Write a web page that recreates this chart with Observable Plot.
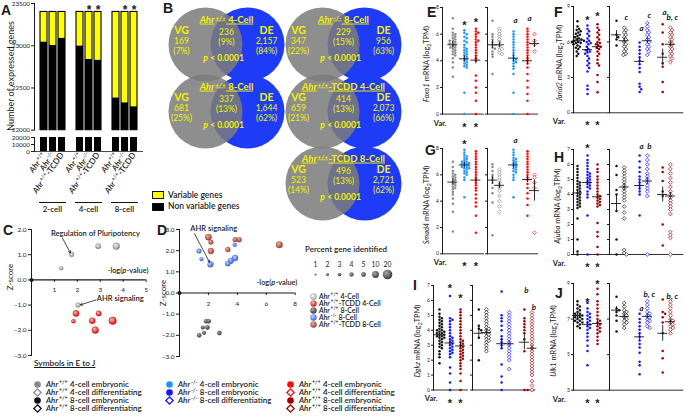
<!DOCTYPE html>
<html>
<head>
<meta charset="utf-8">
<script src="https://cdn.jsdelivr.net/npm/d3@7"></script>
<script src="https://cdn.jsdelivr.net/npm/@observablehq/plot@0.6"></script>
<style>
html,body{margin:0;padding:0;background:#fff;}
#fig{position:relative;width:685px;height:420px;overflow:hidden;font-family:Lato,"Open Sans",sans-serif;color:#1a1a1a;}
#fig svg{background:transparent !important;max-width:none !important;overflow:visible !important;}
.t{position:absolute;white-space:nowrap;line-height:1;}
.letter{position:absolute;font-family:"Liberation Sans",Arial,sans-serif;font-weight:bold;font-size:14px;line-height:14px;}
.rot{position:absolute;white-space:nowrap;line-height:1;transform:translate(-50%,-50%) rotate(-90deg);}
sup{font-size:70%;vertical-align:0.45em;line-height:0;}
sub{font-size:70%;vertical-align:-0.25em;line-height:0;}
</style>
</head>
<body>
<div id="fig"></div>
<script>
// ===================== DATA =====================
// ---- A: expressed genes ----
const aGroups = ["2-cell", "4-cell", "8-cell"];
const aGenotypes = ["Ahr+/+", "Ahr-/-", "Ahr+/+-TCDD"];
const aTotal = [23400, 23400, 23400, 23400, 23400, 23400, 23400, 23400, 23400];
const aNonVariable = [23045, 23005, 23090, 22998, 22838, 22830, 22383, 22325, 22278];
const aSignificant = [0, 0, 0, 0, 1, 1, 0, 1, 1];
const aUpperTicks = [22000, 22500, 23000, 23500];
const aLowerTicks = [0, 10000, 20000];
const aBreakValue = 20000;
const aLegend = ["Variable genes", "Non variable genes"];

// ---- B: Venn diagrams ----
const vennTitles = ["Ahr+/+ 4-Cell", "Ahr-/- 8-Cell", "Ahr+/+ 8-Cell", "Ahr+/+-TCDD 4-Cell", "Ahr+/+-TCDD 8-Cell"];
const vennVG = [169, 347, 681, 659, 523];
const vennVGPct = [7, 22, 25, 21, 14];
const vennBoth = [236, 229, 337, 414, 496];
const vennBothPct = [9, 15, 13, 13, 13];
const vennDE = [2157, 956, 1644, 2073, 2721];
const vennDEPct = [84, 63, 62, 66, 62];
const vennP = "p < 0.0001";

// ---- C: pathways ----
const cGreyX = [1.30, 1.75, 2.91, 3.70, 2.03];
const cGreyY = [0.46, 1.01, 1.34, 1.34, -1.00];
const cGreyPct = [3, 5, 6, 10, 5];
const cRedX = [1.94, 1.83, 2.65, 2.93, 2.78, 3.54];
const cRedY = [-1.33, -1.64, -1.62, -1.33, -1.99, -1.62];
const cRedPct = [8, 3.5, 8, 6, 10, 12];
const cXTicks = [1, 2, 3, 4, 5];
const cYTicks = [-3, -2, -1, 0, 1, 2];

// ---- D: pathways ----
const dLightX = [2.20], dLightY = [1.38], dLightPct = [6];
const dDarkX = [1.84, 2.02, 1.61, 1.93, 1.70, 1.36, 2.76];
const dDarkY = [-1.34, -1.34, -1.63, -1.63, -1.88, -2.00, -1.89];
const dDarkPct = [4, 4, 3, 4, 3, 4, 4];
const dBlueX = [1.35, 1.52, 2.12, 3.34, 3.82, 3.84, 3.55];
const dBlueY = [1.98, 1.60, 1.34, 1.39, 2.28, 1.65, 1.52];
const dBluePct = [5, 3, 6, 6, 3.5, 8, 7];
const dBrownX = [2.00, 2.17, 2.17, 3.34, 3.84, 4.12, 6.90];
const dBrownY = [2.64, 2.40, 1.98, 2.05, 2.52, 2.52, 2.28];
const dBrownPct = [9, 5, 8, 5.5, 5, 5.5, 9.5];
const dXTicks = [2, 4, 6, 8];
const dYTicks = [-3, -2, -1, 0, 1, 2, 3];
const pctLevels = [1, 2, 3, 4, 5, 10, 20];
const dSeries = ["Ahr+/+ 4-Cell", "Ahr+/+-TCDD 4-Cell", "Ahr+/+ 8-Cell", "Ahr-/- 8-Cell", "Ahr+/+-TCDD 8-Cell"];

// ---- symbols legend ----
const symCol1 = ["Ahr+/+ 4-cell embryonic", "Ahr+/+ 4-cell differentiating", "Ahr+/+ 8-cell embryonic", "Ahr+/+ 8-cell differentiating"];
const symCol2 = ["Ahr-/- 4-cell embryonic", "Ahr-/- 8-cell embryonic", "Ahr-/- 8-cell differentiating"];
const symCol3 = ["Ahr+/+ 4-cell embryonic", "Ahr+/+ 4-cell differentiating", "Ahr+/+ 8-cell embryonic", "Ahr+/+ 8-cell differentiating"];

// ---- E: Foxo1 ----
const eLeftValues = [
 [7.2,6.4,6.1,6.0,5.9,5.8,5.7,5.6,5.5,5.5,5.4,5.3,5.3,5.2,5.1,5.0,5.0,4.9,4.8,4.7,4.6,4.5,4.4,4.2,3.9,3.5,2.8],
 [6.3,6.1,6.0,5.8,5.7,5.5,5.4,5.2,5.0,4.9,4.8,4.7,4.6,4.5,4.4,4.3,4.2,4.1,4.0,3.9,3.8,3.7,3.6,3.5,1.6,0],
 [6.4,6.2,6.1,6.0,5.8,5.6,5.5,5.4,5.2,5.0,4.8,4.6,4.4,4.2,4.0,2.9,2.5,2.0,1.6,1.0,0]];
const eLeftMean = [5.2, 4.15, 4.05], eLeftSem = [0.15, 0.2, 0.28];
const eRightValues = [
 [7.0,6.0,5.8,5.6,5.4,5.2,5.0,4.9,4.7,4.5,4.3,3.0],
 [6.4,6.2,6.0,5.8,5.6,5.4,5.2,5.0,4.9,4.8,4.6,4.5],
 [6.2,6.0,5.8,5.6,5.4,5.2,5.0,4.8,4.6,4.4,4.2,4.1,4.0,3.9,3.8,3.6,3.4,3.0,1.6,0],
 [6.4,6.2,6.0,5.8,5.6,5.4,5.2,5.0,4.8,4.6,4.4,4.2,4.0,3.8,3.5,3.0,2.5,2.0,1.5,1.0,0],
 [6.0,5.5,5.2,4.7]];
const eRightMean = [5.2, 5.2, 4.2, 4.0, 5.3], eRightSem = [0.3, 0.2, 0.28, 0.3, 0.3];
const eLeftTop = ["", "*", "*"], eLeftTopY = [0, 6.9, 7.1];
const eRightTop = ["", "", "a", "a", ""], eRightTopY = [0, 0, 7.0, 7.2, 0];
const eLeftBottom = ["", "*", "*"];

// ---- G: Smad4 ----
const gLeftValues = [
 [7.0,6.6,6.3,6.1,6.0,5.9,5.8,5.7,5.6,5.5,5.4,5.3,5.2,5.1,5.0,4.9,4.7,4.5,4.2,3.8,3.2,1.7],
 [7.9,7.7,7.5,7.4,7.3,7.2,7.1,7.0,7.0,6.9,6.9,6.8,6.8,6.7,6.7,6.6,6.6,6.5,6.5,6.4,6.3,6.2,6.1,6.0,5.8,5.6,4.3],
 [7.8,7.6,7.4,7.2,7.0,6.8,6.6,6.4,6.2,6.0,5.8,5.6,5.4,5.2,5.0,4.8,4.5,4.2,3.9,3.6,2.9,1.6]];
const gLeftMean = [5.45, 6.75, 5.6], gLeftSem = [0.15, 0.08, 0.2];
const gRightValues = [
 [6.8,6.6,6.3,6.0,5.8,5.6,5.4,5.0,4.6,3.9,1.4],
 [6.4,6.2,6.0,5.8,5.6,5.4,5.2,5.0,4.8,4.4,4.0,3.6,3.2],
 [7.9,7.7,7.5,7.3,7.2,7.1,7.0,6.9,6.8,6.7,6.6,6.5,6.4,6.3,6.2,6.0,5.8,5.6,4.3],
 [7.8,7.6,7.4,7.2,7.0,6.8,6.6,6.4,6.2,6.0,5.8,5.6,5.3,5.0,4.6,4.2,3.7,2.9],
 [6.0,5.8,5.4,5.0,1.6]];
const gRightMean = [5.6, 5.2, 6.75, 5.65, 4.8], gRightSem = [0.3, 0.25, 0.1, 0.25, 0.8];
const gLeftTop = ["", "*", ""], gLeftTopY = [0, 8.55, 0];
const gRightTop = ["", "", "a", "", ""], gRightTopY = [0, 0, 8.6, 0, 0];
const gLeftBottom = ["", "*", "*"];

// ---- I: Dgkz ----
const iLeftValues = [
 [5.4,5.1,4.9,4.8,4.7,4.6,4.5,4.4,4.3,4.2,4.1,4.0,4.0,3.9,3.9,3.8,3.8,3.7,3.7,3.6,3.6,3.5,3.5,3.4,3.3,3.2,3.1,3.0,2.9,2.8,2.6,2.4,2.2,1.8],
 [6.3,4.8,4.7,4.6,4.4,4.2,4.0,3.8,3.6,3.5,3.4,3.3,3.2,3.1,3.0,2.9,2.8,2.7,2.6,2.5,2.4,2.2,1.5,1.1,0.5,0],
 [5.4,5.2,5.0,4.8,4.6,4.4,4.2,4.0,3.8,3.6,3.4,3.3,3.2,3.1,3.0,2.9,2.8,2.7,2.6,2.5,2.4,2.3,2.2,2.1,2.0,1.8,1.6,1.4,1.1,0.6,0]];
const iLeftMean = [3.7, 3.15, 2.95], iLeftSem = [0.08, 0.2, 0.15];
const iRightValues = [
 [5.4,4.3,4.1,4.0,3.5,2.0],
 [5.4,5.2,5.0,4.8,4.6,4.4,4.2,4.1,4.0,3.9,3.8,3.7,3.6,3.5,3.4,3.3,3.2,3.0,2.8,2.6],
 [6.6,5.0,4.8,4.6,4.3,4.0,3.6,3.4,3.2,3.0,2.8,1.7,0.9,0.5,0],
 [5.2,5.0,4.8,4.6,4.4,4.2,4.0,3.8,3.6,3.4,3.2,3.0,2.8,2.6,2.4,2.2,2.0,1.4],
 [5.4,4.8,4.6,4.4,4.2,4.0,3.8,3.4,2.6,0,0],
 [5.2,5.0,4.8,4.6,4.4,4.2,4.0,3.8,3.6,3.4,3.2,3.0,2.8,2.6,2.4,2.2,2.0,1.8,1.6,1.4,1.2,1.0,0.6,0.3,0]];
const iRightMean = [3.8, 3.85, 3.1, 3.1, 3.2, 2.8], iRightSem = [0.4, 0.15, 0.35, 0.2, 0.5, 0.2];
const iLeftTop = ["", "*", "*"], iLeftTopY = [0, 7.0, 6.3];
const iRightTop = ["", "", "", "", "b", "b"], iRightTopY = [0, 0, 0, 0, 6.7, 5.5];
const iLeftBottom = ["", "*", "*"];

// ---- F: Jarid2 ----
const fLeftValues = [
 [7.75,7.3,7.1,7.0,6.9,6.8,6.7,6.6,6.5,6.4,6.3,6.2,6.2,6.1,6.1,6.0,6.0,5.9,5.9,5.8,5.7,5.6,5.5,5.4,5.2,5.0,4.8],
 [7.4,7.1,6.9,6.7,6.5,6.3,6.1,6.0,5.9,5.8,5.6,5.4,5.3,5.2,5.1,5.0,4.8,4.6,4.4,4.2,4.0,3.8,3.5,2.3,2.0,1.6],
 [7.5,7.2,7.0,6.8,6.6,6.4,6.2,6.0,5.9,5.8,5.7,5.6,5.5,5.4,5.2,5.0,4.8,4.5,4.2,4.0,3.2,2.6,1.75]];
const fLeftMean = [6.1, 5.35, 5.6], fLeftSem = [0.08, 0.15, 0.15];
const fRightValues = [
 [7.8,6.6,6.4,6.2,5.7],
 [7.2,7.0,6.8,6.6,6.4,6.2,6.0,5.8,5.6,5.4,5.2,5.0,4.9],
 [5.95,5.6,5.3,5.0,4.7,4.4,4.1,3.8,3.45,2.45,2.2,2.0,1.75],
 [7.6,7.3,7.0,6.8,6.6,6.4,6.2,6.0,5.8,5.6,5.4,5.2,4.9],
 [7.5,6.8,5.8,5.0,4.2,3.9,2.6,1.75],
 [7.2,7.0,6.8,6.6,6.4,6.2,6.0,5.8,5.6,5.4,5.2,5.0,4.8,4.6,4.3]];
const fRightMean = [6.6, 6.1, 4.35, 6.1, 4.7, 5.8], fRightSem = [0.35, 0.15, 0.3, 0.15, 0.7, 0.15];
const fLeftTop = ["", "*", "*"], fLeftTopY = [0, 8.1, 8.4];
const fRightTop = ["", "c", "a", "c", "a", "b, c"], fRightTopY = [0, 8.1, 7.1, 8.25, 8.5, 8.1];
const fLeftBottom = ["", "*", "*"];

// ---- H: Ajuba ----
const hLeftValues = [
 [5.9,5.7,5.5,5.3,5.1,4.9,4.8,4.7,4.6,4.5,4.4,4.3,4.2,4.1,4.0,3.9,3.8,3.7,3.6,3.5,3.4,3.3,3.2,3.1,2.4,1.0,0.2,0],
 [6.6,6.3,6.1,5.9,5.7,5.5,5.4,5.3,5.2,5.1,5.0,4.9,4.8,4.7,4.6,4.5,4.4,4.2,4.0,3.8,2.6,0],
 [6.0,5.7,5.5,5.2,5.0,4.8,4.6,4.4,4.2,4.0,3.9,3.8,3.7,3.6,3.5,3.4,3.3,3.2,2.1,1.5,1.2,0.5,0]];
const hLeftMean = [4.1, 4.8, 3.85], hLeftSem = [0.15, 0.15, 0.15];
const hRightValues = [
 [5.9,5.3,4.3,4.0,2.9,1.0,0],
 [5.8,5.6,5.4,5.2,5.0,4.8,4.6,4.4,4.2,4.0,3.8,3.6,3.2,2.8,2.4,0.3,0.1,0],
 [6.6,6.2,5.8,5.5,5.2,5.0,4.8,4.6,4.4,4.2,4.0,2.6],
 [6.6,6.3,6.0,5.7,5.4,5.2,5.0,4.8,4.6,4.4,4.2,3.9,0],
 [5.8,5.5,4.9,4.2,3.9,2.0,0.6],
 [6.0,5.7,5.4,5.1,4.8,4.5,4.2,4.0,3.8,3.6,3.4,3.2,3.0,2.7,1.5,1.3,1.1,0]];
const hRightMean = [3.4, 4.5, 4.6, 4.9, 4.0, 3.9], hRightSem = [0.6, 0.25, 0.3, 0.25, 0.5, 0.25];
const hLeftTop = ["", "*", ""], hLeftTopY = [0, 7.25, 0];
const hRightTop = ["", "", "a", "b", "", ""], hRightTopY = [0, 0, 7.2, 7.2, 0, 0];
const hLeftBottom = ["", "*", "*"];

// ---- J: Ulk1 ----
const jLeftValues = [
 [8.0,7.8,7.7,7.6,7.5,7.4,7.3,7.3,7.2,7.2,7.1,7.1,7.0,7.0,6.9,6.9,6.8,6.8,6.7,6.6,6.5],
 [7.9,7.6,7.4,7.3,7.2,7.1,7.0,6.9,6.8,6.7,6.6,6.5,6.4,6.2,6.0,5.8,5.5,5.2,4.4],
 [8.7,8.4,8.0,7.8,7.6,7.4,7.2,7.0,6.9,6.8,6.7,6.6,6.5,6.4,6.3,6.2,6.0,5.8,5.6]];
const jLeftMean = [7.2, 6.7, 6.75], jLeftSem = [0.05, 0.1, 0.1];
const jRightValues = [
 [8.25,7.6,7.5,7.4,7.2,6.9,6.3],
 [7.9,7.7,7.5,7.4,7.3,7.2,7.1,7.0,6.9,6.8,6.7,6.5],
 [7.3,7.0,6.8,6.6,6.4,6.2,6.0,5.8,5.6,5.4,5.1,4.6,4.4,3.9],
 [8.0,7.8,7.6,7.4,7.3,7.2,7.1,7.0,6.9,6.8,6.6,6.5],
 [8.1,7.4,7.3,7.1,6.8,6.2,5.2,4.8,4.0],
 [8.0,7.8,7.6,7.4,7.2,7.0,6.9,6.8,6.7,6.6,6.5,6.4,6.2]];
const jRightMean = [7.5, 7.15, 6.0, 7.15, 6.2, 6.85], jRightSem = [0.2, 0.1, 0.2, 0.1, 0.45, 0.1];
const jLeftTop = ["", "*", "*"], jLeftTopY = [0, 8.1, 9.1];
const jRightTop = ["", "", "a", "b, c", "", "b, c"], jRightTopY = [0, 0, 7.6, 8.4, 0, 8.3];
const jLeftBottom = ["", "*", "*"];

// ===================== STYLE / HELPERS =====================
const INK = "#1a1a1a";
const YEL = "#f2f200";
const STAR_FONT = "'Liberation Sans', Arial, sans-serif";
const BASE = {fontFamily: "Lato, 'Open Sans', sans-serif", background: "transparent", overflow: "visible", color: INK, maxWidth: "none"};
const C4 = {a: "#8a8a8a", b: "#1e96ff", c: "#ff0a0a"};
const C8 = {a: "#111111", b: "#1414ff", c: "#a00000"};
const fig = document.getElementById("fig");

document.body.insertAdjacentHTML("afterbegin", `<svg width="0" height="0" style="position:absolute"><defs>${
  [["sphGrey","#f0f0f0","#8c8c8c"],["sphLight","#ffffff","#a8a8a8"],["sphRed","#ffb8ae","#d80000"],
   ["sphDark","#a8a8a8","#303030"],["sphBlue","#c4d4ff","#2b58e0"],["sphBrown","#eab0a0","#9a3524"]]
  .map(([id,a,b]) => `<radialGradient id="${id}" cx="0.38" cy="0.34" r="0.72"><stop offset="0" stop-color="${a}"/><stop offset="1" stop-color="${b}"/></radialGradient>`).join("")
}</defs></svg>`);

function rich(root) {
  const NS = "http://www.w3.org/2000/svg";
  const re = /(Ahr)([+\-]\/[+\-])|(\bp)(?=-value| <)/g;
  root.querySelectorAll("text, tspan").forEach(node => {
    if (node.children.length) return;
    const s = node.textContent;
    re.lastIndex = 0;
    if (!re.test(s)) return;
    re.lastIndex = 0;
    node.textContent = "";
    const add = (txt, attrs) => { const t = document.createElementNS(NS, "tspan"); t.textContent = txt; for (const k in attrs) t.setAttribute(k, attrs[k]); node.appendChild(t); };
    let last = 0, m;
    while ((m = re.exec(s))) {
      if (m.index > last) add(s.slice(last, m.index), {});
      if (m[1]) { add("Ahr", {"font-style": "italic"}); add(m[2], {"baseline-shift": "super", "font-size": "68%", dx: "0.8"}); }
      else add("p", {"font-style": "italic"});
      last = m.index + m[0].length;
    }
    if (last < s.length) add(s.slice(last), {dx: "0.3"});
  });
}

function framed(opts, f, m) {
  const svg = Plot.plot({...opts, style: {...BASE, ...(opts.style || {})},
    width: f.x1 - f.x0 + m.l + m.r, height: f.y1 - f.y0 + m.t + m.b,
    marginLeft: m.l, marginRight: m.r, marginTop: m.t, marginBottom: m.b});
  svg.style.position = "absolute";
  svg.style.left = (f.x0 - m.l) + "px";
  svg.style.top = (f.y0 - m.t) + "px";
  fig.appendChild(svg);
  rich(svg);
  svg._ox = f.x0 - m.l; svg._oy = f.y0 - m.t;
  return svg;
}
function html(s, x, y, css = "") {
  const d = document.createElement("div");
  d.className = "t"; d.innerHTML = s; d.style.left = x + "px"; d.style.top = y + "px";
  d.style.cssText += css; fig.appendChild(d); return d;
}
function rot(s, cx, cy, size) {
  const d = document.createElement("div");
  d.className = "rot"; d.innerHTML = s; d.style.left = cx + "px"; d.style.top = cy + "px"; d.style.fontSize = size + "px";
  fig.appendChild(d); return d;
}
function letter(s, x, capTop) {
  const d = document.createElement("div"); d.className = "letter"; d.textContent = s;
  d.style.left = x + "px"; d.style.top = (capTop - 2.5) + "px"; fig.appendChild(d);
}

// ===================== PANEL A =====================
const aBars = aGroups.flatMap((g, gi) => aGenotypes.map((gt, j) => ({
  slot: `${gi}-${j}`, genotype: gt, total: aTotal[gi * 3 + j], nonvar: aNonVariable[gi * 3 + j], star: aSignificant[gi * 3 + j]
})));
const aSlots = [];
aGroups.forEach((g, gi) => { if (gi) aSlots.push(`gap${gi}`); aGenotypes.forEach((gt, j) => aSlots.push(`${gi}-${j}`)); });
const aXScale = {domain: aSlots, paddingInner: 0.24, paddingOuter: 0.3};
framed({
  x: {...aXScale, axis: null},
  y: {domain: [22000, 23500], ticks: aUpperTicks, tickSize: 3, tickPadding: 1.5, tickFormat: d3.format("d"), label: null, line: true},
  style: {fontSize: "6.3px"},
  marks: [
    Plot.barY(aBars, {x: "slot", y1: 22000, y2: "nonvar", fill: "#000"}),
    Plot.barY(aBars, {x: "slot", y1: "nonvar", y2: "total", fill: "#ffff00"}),
    Plot.barY(aBars, {x: "slot", y1: 22000, y2: "total", fill: "none", stroke: "#000", strokeWidth: 1.1}),
    Plot.text(aBars.filter(d => d.star), {x: "slot", y: "total", dy: -2, text: () => "*", fontSize: 12, fontWeight: "bold", fontFamily: STAR_FONT})
  ]
}, {x0: 34, x1: 143, y0: 3.3, y1: 130}, {l: 34, t: 4, r: 2, b: 1});
const aLower = framed({
  x: {...aXScale, tickRotate: -55, tickSize: 0, tickPadding: 2, label: null,
      tickFormat: s => (aBars.find(b => b.slot === s) || {}).genotype || ""},
  y: {domain: [0, aBreakValue], ticks: aLowerTicks, tickSize: 3, tickPadding: 1.5, tickFormat: d3.format("d"), label: null, line: true},
  style: {fontSize: "8.2px", fontWeight: 600},
  marks: [
    Plot.barY(aBars, {x: "slot", y1: 0, y2: aBreakValue, fill: "#000"}),
    Plot.ruleY([0], {stroke: INK, strokeWidth: 0.8})
  ]
}, {x0: 34, x1: 143, y0: 137, y1: 151}, {l: 34, t: 1, r: 2, b: 40});
aLower.querySelectorAll("text").forEach(t => { if (/^\d+$/.test(t.textContent)) { t.setAttribute("font-size", "6.3px"); t.setAttribute("font-weight", "normal"); } });
{
  const sx = aLower.scale("x");
  aGroups.forEach((g, gi) => {
    const a = sx.apply(`${gi}-0`) + aLower._ox, b = sx.apply(`${gi}-2`) + sx.bandwidth + aLower._ox;
    html("", a - 1, 201.5, `width:${b - a + 2}px;border-top:1.2px solid #111;`);
    html(g, (a + b) / 2, 205, "transform:translateX(-50%);font-size:8px;font-weight:600;");
  });
}
rot("Number of expressed genes", 10, 76, 9);
html("", 152, 191, "width:10px;height:6px;background:#ffff00;border:1px solid #111;");
html(aLegend[0], 168, 190.5, "font-size:8.5px;font-weight:600;");
html("", 152, 202.5, "width:10px;height:6px;background:#000;border:1px solid #111;");
html(aLegend[1], 168, 202, "font-size:8.5px;font-weight:600;");

// ===================== PANEL B =====================
const vennCol = [0, 1, 0, 1, 1], vennRow = [0, 0, 1, 1, 2];
const vennRowY = [44, 111, 183];
vennTitles.forEach((title, i) => {
  const mx = 226 + vennCol[i] * 117, cy = vennRowY[vennRow[i]];
  const f = d3.format(",");
  const svg = framed({
    x: {domain: [-70, 70], axis: null},
    y: {domain: [42, -42], axis: null},
    marks: [
      Plot.dot([0], {x: 21, y: 0, r: 37, fill: "#1e3cf8"}),
      Plot.dot([0], {x: -21, y: 0, r: 37, fill: "#7c7c7c", fillOpacity: 0.86}),
      Plot.text([title], {x: 0, y: -25, text: d => d, fill: YEL, fontSize: 9.5, fontWeight: "bold"}),
      Plot.text(["VG"], {x: -45, y: -14, text: d => d, fill: YEL, fontSize: 10.5, fontWeight: "bold"}),
      Plot.text([f(vennVG[i])], {x: -45, y: -3, text: d => d, fill: YEL, fontSize: 8.5}),
      Plot.text([`(${vennVGPct[i]}%)`], {x: -45, y: 7, text: d => d, fill: YEL, fontSize: 8.5}),
      Plot.text([f(vennBoth[i])], {x: 0, y: -12, text: d => d, fill: YEL, fontSize: 8.5}),
      Plot.text([`(${vennBothPct[i]}%)`], {x: 0, y: -2, text: d => d, fill: YEL, fontSize: 8.5}),
      Plot.text(["DE"], {x: 40, y: -14, text: d => d, fill: YEL, fontSize: 10.5, fontWeight: "bold"}),
      Plot.text([f(vennDE[i])], {x: 40, y: -3, text: d => d, fill: YEL, fontSize: 8.5}),
      Plot.text([`(${vennDEPct[i]}%)`], {x: 40, y: 7, text: d => d, fill: YEL, fontSize: 8.5}),
      Plot.text([vennP], {x: -3, y: 14, text: d => d, fill: YEL, fontSize: 8.5, fontWeight: "bold"})
    ]
  }, {x0: mx - 70, x1: mx + 70, y0: cy - 42, y1: cy + 42}, {l: 0, t: 0, r: 0, b: 0});
  svg.querySelectorAll("text").forEach(t => { if (/Cell/.test(t.textContent)) t.setAttribute("text-decoration", "underline"); });
});

// ===================== PANEL C =====================
const rScale = {type: "sqrt", domain: [0, 20], range: [0, 4.8]};
const cGrey = cGreyX.map((x, i) => ({x, y: cGreyY[i], pct: cGreyPct[i]}));
const cRed = cRedX.map((x, i) => ({x, y: cRedY[i], pct: cRedPct[i]}));
framed({
  x: {domain: [0, 5], axis: null},
  y: {domain: [-3, 2], ticks: cYTicks, tickSize: 3, tickPadding: 2, label: null, line: true},
  r: rScale,
  style: {fontSize: "6.5px"},
  marks: [
    Plot.ruleY([0], {stroke: INK, strokeWidth: 1.2}),
    Plot.ruleX(cXTicks, {x: d => d, y1: 0, y2: -0.1, stroke: INK}),
    Plot.text(cXTicks, {x: d => d, y: 0, dy: 10, text: d => String(d), fontSize: 6.5}),
    Plot.dot([0], {x: 0, y: 0, r: 2, fill: INK}),
    Plot.dot(cGrey, {x: "x", y: "y", r: "pct", fill: "url(#sphGrey)", stroke: "#6d6d6d", strokeWidth: 0.4}),
    Plot.dot(cRed, {x: "x", y: "y", r: "pct", fill: "url(#sphRed)", stroke: "#b00000", strokeWidth: 0.4}),
    Plot.arrow([0], {x1: 1.35, y1: 1.66, x2: 1.70, y2: 1.07, headLength: 4, strokeWidth: 0.8, stroke: INK}),
    Plot.arrow([0], {x1: 2.80, y1: -0.80, x2: 2.14, y2: -0.99, headLength: 4, strokeWidth: 0.8, stroke: INK}),
    Plot.text(["Regulation of Pluripotency"], {x: 2.79, y: 1.84, text: d => d, fontSize: 7.6, fontWeight: 600}),
    Plot.text(["AHR signaling"], {x: 2.85, y: -0.76, text: d => d, textAnchor: "start", fontSize: 7.6, fontWeight: 600}),
    Plot.text(["-log(p-value)"], {x: 5.1, y: 0.36, text: d => d, textAnchor: "end", fontSize: 7.4, fontWeight: 600})
  ]
}, {x0: 30.7, x1: 145.3, y0: 229, y1: 355}, {l: 30, t: 6, r: 8, b: 6});
rot("Z-score", 10, 277, 8);

// ===================== PANEL D =====================
const toPts = (X, Y, P) => X.map((x, i) => ({x, y: Y[i], pct: P[i]}));
framed({
  x: {domain: [0, 8], axis: null},
  y: {domain: [-3, 3], ticks: dYTicks, tickSize: 3, tickPadding: 2, label: null, line: true},
  r: rScale,
  style: {fontSize: "6.5px"},
  marks: [
    Plot.ruleY([0], {stroke: INK, strokeWidth: 1.2}),
    Plot.ruleX(dXTicks, {x: d => d, y1: 0, y2: -0.12, stroke: INK}),
    Plot.text(dXTicks, {x: d => d, y: 0, dy: 10.5, text: d => String(d), fontSize: 6.5}),
    Plot.dot([0], {x: 0, y: 0, r: 2, fill: INK}),
    Plot.dot(toPts(dDarkX, dDarkY, dDarkPct), {x: "x", y: "y", r: "pct", fill: "url(#sphDark)", stroke: "#333", strokeWidth: 0.3}),
    Plot.dot(toPts(dBrownX, dBrownY, dBrownPct), {x: "x", y: "y", r: "pct", fill: "url(#sphBrown)", stroke: "#7a2a1c", strokeWidth: 0.3}),
    Plot.dot(toPts(dLightX, dLightY, dLightPct), {x: "x", y: "y", r: "pct", fill: "url(#sphLight)", stroke: "#888", strokeWidth: 0.3}),
    Plot.dot(toPts(dBlueX, dBlueY, dBluePct), {x: "x", y: "y", r: "pct", fill: "url(#sphBlue)", stroke: "#2040b0", strokeWidth: 0.3}),
    Plot.arrow([0], {x1: 1.04, y1: 2.80, x2: 2.08, y2: 1.45, headLength: 4, strokeWidth: 0.8, stroke: INK}),
    Plot.text(["AHR signaling"], {x: 0.75, y: 3.05, text: d => d, textAnchor: "start", fontSize: 7.6, fontWeight: 600}),
    Plot.text(["-log(p-value)"], {x: 8.15, y: 0.47, text: d => d, textAnchor: "end", fontSize: 7.4, fontWeight: 600})
  ]
}, {x0: 179.3, x1: 295, y0: 229, y1: 356}, {l: 18, t: 8, r: 6, b: 14});
rot("Z-score", 163, 293, 8);

// size legend
html("Percent gene identified", 305, 245, "font-size:8px;font-weight:600;");
framed({
  x: {type: "point", domain: pctLevels, axis: null},
  r: rScale,
  marks: [
    Plot.dot(pctLevels, {x: d => d, r: d => d, fill: "url(#sphDark)"}),
    Plot.text(pctLevels, {x: d => d, dy: -10, text: d => String(d), fontSize: 6.8})
  ]
}, {x0: 309, x1: 393, y0: 268, y1: 280}, {l: 4, t: 14, r: 6, b: 2});
// series legend
const dSeriesFill = ["url(#sphLight)", "url(#sphRed)", "url(#sphDark)", "url(#sphBlue)", "url(#sphBrown)"];
framed({
  x: {domain: [0, 1], axis: null},
  y: {type: "point", domain: d3.range(dSeries.length), axis: null},
  color: {type: "identity"},
  marks: [
    Plot.dot(dSeries, {x: 0, y: (d, i) => i, r: 3.1, fill: (d, i) => dSeriesFill[i], stroke: "#666", strokeWidth: 0.3}),
    Plot.text(dSeries, {x: 0, y: (d, i) => i, dx: 5.5, textAnchor: "start", text: d => d, fontSize: 7.1, fontWeight: 600})
  ]
}, {x0: 312.7, x1: 390, y0: 290.5, y1: 328}, {l: 5, t: 5, r: 5, b: 5});

// ===================== SYMBOLS LEGEND =====================
html("Symbols in E to J", 34, 359, "font-size:8.3px;font-weight:600;text-decoration:underline;");
function symLegend(names, colors, open, x0) {
  const rows = names.map((n, i) => ({n, i, c: colors[i], o: open[i]}));
  framed({
    x: {domain: [0, 1], axis: null},
    y: {type: "point", domain: [0, 1, 2, 3], axis: null},
    color: {type: "identity"},
    marks: [
      Plot.dot(rows.filter(d => !d.o), {x: 0, y: "i", r: 3.3, fill: "c"}),
      Plot.dot(rows.filter(d => d.o), {x: 0, y: "i", r: 3.3, symbol: "diamond2", fill: "white", stroke: "c", strokeWidth: 1.3}),
      Plot.text(rows, {x: 0, y: "i", dx: 8.5, textAnchor: "start", text: "n", fontSize: 8, fontWeight: 600})
    ]
  }, {x0, x1: x0 + 110, y0: 378, y1: 413.1}, {l: 5, t: 5, r: 5, b: 5});
}
symLegend(symCol1, [C4.a, C4.a, C8.a, C8.a], [0, 1, 0, 1], 37.3);
symLegend(symCol2, [C4.b, C8.b, C8.b], [0, 0, 1], 169.3);
symLegend(symCol3, [C4.c, C4.c, C8.c, C8.c], [0, 1, 0, 1], 290);

// ===================== PANELS E-J =====================
function swarm(vals, pxY, d) {
  const order = vals.map((v, i) => i).sort((a, b) => vals[b] - vals[a]);
  const placed = [], off = new Array(vals.length).fill(0);
  for (const i of order) {
    const py = vals[i] * pxY;
    for (let k = 0; k < 80; k++) {
      const c = (k % 2 ? 1 : -1) * Math.ceil(k / 2) * 0.8;
      if (placed.every(p => (p.x - c) ** 2 + (p.y - py) ** 2 >= d * d)) { off[i] = c; placed.push({x: c, y: py}); break; }
    }
  }
  return off;
}
function section(o) {
  const pxX = (o.frame.x1 - o.frame.x0) / (o.xDomain[1] - o.xDomain[0]);
  const pxY = (o.frame.y1 - o.frame.y0) / (o.yDomain[1] - o.yDomain[0]);
  const pts = [];
  o.cols.forEach(c => {
    const off = swarm(c.vals, pxY, 2.5);
    c.vals.forEach((v, i) => pts.push({x: c.pos + off[i] / pxX, y: v, color: c.color, open: c.open}));
  });
  const bars = o.cols.map(c => {
    const e = Math.max(c.sem, 3 / pxY);
    return {x: c.pos, m: c.mean, lo: c.mean - e, hi: c.mean + e, w: 5 / pxX};
  });
  const notes = o.cols.map((c, i) => ({x: c.pos, y: o.topY[i], t: o.top[i]})).filter(d => d.t);
  const stars = o.cols.map((c, i) => ({x: c.pos, t: o.bottom ? o.bottom[i] : ""})).filter(d => d.t);
  const marks = [
    Plot.ruleY([o.yDomain[0]], {stroke: INK, strokeWidth: 0.9}),
    Plot.dot(pts.filter(d => !d.open), {x: "x", y: "y", r: 1.25, fill: "color"}),
    Plot.dot(pts.filter(d => d.open), {x: "x", y: "y", r: 1.7, symbol: "diamond2", fill: "white", stroke: "color", strokeWidth: 0.7}),
    Plot.ruleY(bars, {y: "m", x1: d => d.x - d.w, x2: d => d.x + d.w, stroke: INK, strokeWidth: 0.9}),
    Plot.ruleX(bars, {x: "x", y1: "lo", y2: "hi", stroke: INK, strokeWidth: 0.9}),
    Plot.text(notes.filter(d => d.t === "*"), {x: "x", y: "y", text: "t", fontSize: 11, fontWeight: "bold", fontFamily: STAR_FONT, dy: 3}),
    Plot.text(notes.filter(d => d.t !== "*"), {x: "x", y: "y", text: "t", fontSize: 8, fontStyle: "italic", fontWeight: "bold", dx: 2}),
    Plot.text(stars, {x: "x", y: o.yDomain[0], dy: 13, text: "t", fontSize: 11, fontWeight: "bold", fontFamily: STAR_FONT})
  ];
  if (o.varLabel) marks.push(Plot.text(["Var."], {x: o.xDomain[0], y: o.yDomain[0], dy: 9, dx: o.varDx, textAnchor: "end", text: d => d, fontSize: 7.5, fontWeight: "bold"}));
  return framed({
    x: {domain: o.xDomain, axis: null},
    y: {domain: o.yDomain, ticks: o.yTicks, tickSize: 2, tickPadding: 1.5, tickFormat: o.labels ? d => String(d) : () => "", label: null, line: true},
    color: {type: "identity"},
    style: {fontSize: "5px"},
    marks
  }, o.frame, o.margins);
}
function stripPanel(p) {
  const leftCols = p.leftValues.map((vals, i) => ({pos: i + 1, vals, mean: p.leftMean[i], sem: p.leftSem[i], color: p.set[["a", "b", "c"][i]], open: false}));
  section({frame: {x0: p.L[0], x1: p.L[1], y0: p.y0, y1: p.y1}, margins: {l: 14, t: 14, r: 2, b: 16},
    xDomain: p.xL, yDomain: p.yDomain, yTicks: p.yTicks, labels: true, cols: leftCols,
    top: p.leftTop, topY: p.leftTopY, bottom: p.leftBottom, varLabel: true, varDx: p.varDx});
  const rightCols = p.rightValues.map((vals, i) => ({pos: p.slots[i], vals, mean: p.rightMean[i], sem: p.rightSem[i], color: p.set[p.keys[i]], open: p.open[i]}));
  section({frame: {x0: p.R[0], x1: p.R[1], y0: p.y0, y1: p.y1}, margins: {l: 3, t: 14, r: 12, b: 8},
    xDomain: p.xR, yDomain: p.yDomain, yTicks: p.yTicks, labels: false, cols: rightCols,
    top: p.rightTop, topY: p.rightTopY});
  rot(p.title, p.titleX, (p.y0 + p.y1) / 2 + 4, 7.4);
}
const slots4 = [0, 1, 3, 5, 6], keys4 = ["a", "a", "b", "c", "c"], open4 = [false, true, false, false, true];
const slots8 = [0, 1, 3, 4, 6, 7], keys8 = ["a", "a", "b", "b", "c", "c"], open8 = [false, true, false, true, false, true];
const tpm = g => `<i>${g}</i> mRNA (log<sub>2</sub>TPM)`;
const colE = {L: [442, 484], xL: [0.1, 3.75], R: [487, 538], xR: [-0.714, 6.571], set: C4, slots: slots4, keys: keys4, open: open4, varDx: 4};
const colI = {L: [433, 468], xL: [0.43, 3.76], R: [471.7, 535], xR: [-0.83, 7.5], set: C8, slots: slots8, keys: keys8, open: open8, varDx: 4};
const colF = {L: [572.7, 606.7], xL: [0.6, 4.0], R: [609, 683.3], xR: [-0.91, 8.74], set: C8, slots: slots8, keys: keys8, open: open8, varDx: -8};
stripPanel({...colE, y0: 6.7, y1: 113.3, yDomain: [0, 8], yTicks: [0, 2, 4, 6, 8], title: tpm("Foxo1"), titleX: 427,
  leftValues: eLeftValues, leftMean: eLeftMean, leftSem: eLeftSem, rightValues: eRightValues, rightMean: eRightMean, rightSem: eRightSem,
  leftTop: eLeftTop, leftTopY: eLeftTopY, rightTop: eRightTop, rightTopY: eRightTopY, leftBottom: eLeftBottom});
stripPanel({...colE, y0: 148, y1: 253.3, yDomain: [0, 8], yTicks: [0, 2, 4, 6, 8], title: tpm("Smad4"), titleX: 427,
  leftValues: gLeftValues, leftMean: gLeftMean, leftSem: gLeftSem, rightValues: gRightValues, rightMean: gRightMean, rightSem: gRightSem,
  leftTop: gLeftTop, leftTopY: gLeftTopY, rightTop: gRightTop, rightTopY: gRightTopY, leftBottom: gLeftBottom});
stripPanel({...colI, y0: 285, y1: 389.5, yDomain: [0, 7], yTicks: [0, 1, 2, 3, 4, 5, 6, 7], title: tpm("Dgkz"), titleX: 418,
  leftValues: iLeftValues, leftMean: iLeftMean, leftSem: iLeftSem, rightValues: iRightValues, rightMean: iRightMean, rightSem: iRightSem,
  leftTop: iLeftTop, leftTopY: iLeftTopY, rightTop: iRightTop, rightTopY: iRightTopY, leftBottom: iLeftBottom});
stripPanel({...colF, y0: 6, y1: 112.3, yDomain: [0, 9], yTicks: [0, 3, 6, 9], title: tpm("Jarid2"), titleX: 560,
  leftValues: fLeftValues, leftMean: fLeftMean, leftSem: fLeftSem, rightValues: fRightValues, rightMean: fRightMean, rightSem: fRightSem,
  leftTop: fLeftTop, leftTopY: fLeftTopY, rightTop: fRightTop, rightTopY: fRightTopY, leftBottom: fLeftBottom});
stripPanel({...colF, y0: 149, y1: 254, yDomain: [0, 7], yTicks: [0, 1, 2, 3, 4, 5, 6, 7], title: tpm("Ajuba"), titleX: 558,
  leftValues: hLeftValues, leftMean: hLeftMean, leftSem: hLeftSem, rightValues: hRightValues, rightMean: hRightMean, rightSem: hRightSem,
  leftTop: hLeftTop, leftTopY: hLeftTopY, rightTop: hRightTop, rightTopY: hRightTopY, leftBottom: hLeftBottom});
stripPanel({...colF, y0: 283.3, y1: 390, yDomain: [3, 9], yTicks: [3, 5, 7, 9], title: tpm("Ulk1"), titleX: 554,
  leftValues: jLeftValues, leftMean: jLeftMean, leftSem: jLeftSem, rightValues: jRightValues, rightMean: jRightMean, rightSem: jRightSem,
  leftTop: jLeftTop, leftTopY: jLeftTopY, rightTop: jRightTop, rightTopY: jRightTopY, leftBottom: jLeftBottom});

// ===================== PANEL LETTERS =====================
[["A", 1, 5], ["B", 163, 3], ["C", 3, 225], ["D", 157, 225], ["E", 427, 7], ["F", 554, 7],
 ["G", 425, 145], ["H", 554, 152], ["I", 413, 280], ["J", 555, 288]].forEach(([s, x, y]) => letter(s, x, y));
</script>
</body>
</html>
